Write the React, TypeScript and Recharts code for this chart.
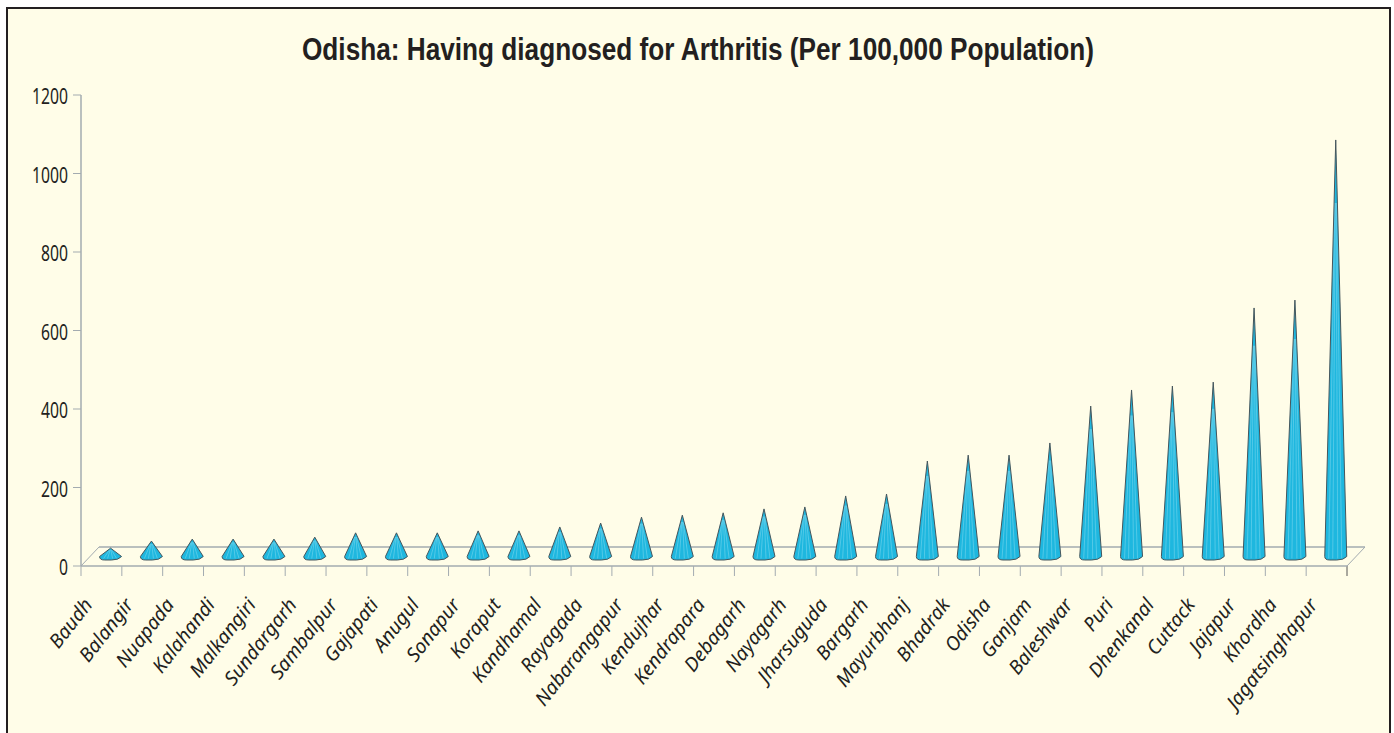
import { BarChart, Bar, XAxis, YAxis } from 'recharts'

const districts = [
  'Baudh', 'Balangir', 'Nuapada', 'Kalahandi', 'Malkangiri', 'Sundargarh', 'Sambalpur', 'Gajapati',
  'Anugul', 'Sonapur', 'Koraput', 'Kandhamal', 'Rayagada', 'Nabarangapur', 'Kendujhar', 'Kendrapara',
  'Debagarh', 'Nayagarh', 'Jharsuguda', 'Bargarh', 'Mayurbhanj', 'Bhadrak', 'Odisha', 'Ganjam',
  'Baleshwar', 'Puri', 'Dhenkanal', 'Cuttack', 'Jajapur', 'Khordha', 'Jagatsinghapur',
]
const rates = [
  20, 38, 43, 43, 43, 48, 59, 59, 59, 64, 64, 74, 84, 99, 104, 110,
  120, 125, 153, 158, 242, 257, 257, 288, 382, 423, 433, 443, 632, 652, 1060,
]
const yTicks = [0, 200, 400, 600, 800, 1000, 1200]

const data = districts.map((name, i) => ({ name, rate: rates[i] }))

const WIDTH = 1394
const HEIGHT = 733
const LEFT = 81
const RIGHT = 1347
const TOP = 95
const BOTTOM = 566
const DEPTH_X = 18
const DEPTH_Y = 19
const AXIS = '#a3abb0'
const INK = '#231f20'

const Cone = ({ x, y, width, height }: any) => {
  const cx = x + width / 2 + 9
  const tip = y - 10
  const base = y + height - 6
  const outline = `M${cx} ${tip} L${cx - 11} ${base - 3.5} Q${cx - 11} ${base} ${cx - 6} ${base} L${cx + 1} ${base} Q${cx + 8} ${base} ${cx + 11} ${base - 3.5} Z`
  return (
    <g>
      <path d={outline} fill="#1eb7df" />
      {[-7, -3, 2, 6].map((dx) => (
        <line
          key={dx}
          x1={cx + dx * 0.15}
          y1={tip + (base - tip) * 0.15}
          x2={cx + dx}
          y2={base - 1.5}
          stroke="#8adcf1"
          strokeWidth={0.7}
          opacity={0.7}
        />
      ))}
      <path d={outline} fill="none" stroke="#46565c" strokeWidth={1} strokeLinejoin="round" />
    </g>
  )
}

const DistrictTick = ({ x, y, payload }: any) => (
  <text
    x={x - 8}
    y={y + 31}
    textAnchor="end"
    fontFamily="Noto Sans"
    fontStyle="italic"
    fontSize={19.5}
    fill={INK}
    transform={`rotate(-52 ${x - 8} ${y + 31})`}
  >
    {payload.value}
  </text>
)

const RateTick = ({ x, y, payload }: any) => {
  const label = String(payload.value)
  return (
    <text
      x={x - 3}
      y={y + 9}
      textAnchor="end"
      fontFamily="Noto Sans"
      fontSize={22}
      fill={INK}
      textLength={label.length * 9}
      lengthAdjust="spacingAndGlyphs"
    >
      {label}
    </text>
  )
}

export default function App() {
  return (
    <div
      style={{
        position: 'absolute',
        left: 0,
        top: 0,
        width: WIDTH,
        height: HEIGHT,
        overflow: 'hidden',
        background: '#ffffff',
      }}
    >
      <div
        style={{
          position: 'absolute',
          left: 6,
          top: 7,
          width: 1381,
          height: 740,
          background: '#fffde8',
          border: `2px solid ${INK}`,
        }}
      />
      <div style={{ position: 'absolute', left: 0, top: 0 }}>
        <BarChart
          width={WIDTH}
          height={HEIGHT}
          data={data}
          margin={{ top: TOP, right: WIDTH - RIGHT, bottom: 0, left: 0 }}
        >
          <text
            x={302}
            y={60}
            fontFamily="Liberation Sans"
            fontWeight="bold"
            fontSize={31}
            fill={INK}
            textLength={792}
            lengthAdjust="spacingAndGlyphs"
          >
            Odisha: Having diagnosed for Arthritis (Per 100,000 Population)
          </text>
          <line x1={LEFT} y1={BOTTOM} x2={LEFT + DEPTH_X} y2={BOTTOM - DEPTH_Y} stroke={AXIS} />
          <line x1={LEFT + DEPTH_X} y1={BOTTOM - DEPTH_Y} x2={RIGHT + DEPTH_X} y2={BOTTOM - DEPTH_Y} stroke={AXIS} strokeWidth={1.5} />
          <line x1={RIGHT} y1={BOTTOM} x2={RIGHT + DEPTH_X} y2={BOTTOM - DEPTH_Y} stroke={AXIS} />
          <XAxis
            dataKey="name"
            interval={0}
            height={HEIGHT - BOTTOM}
            axisLine={{ stroke: AXIS, strokeWidth: 1.5 }}
            tickLine={false}
            tick={<DistrictTick />}
          />
          <YAxis
            width={LEFT}
            domain={[0, 1200]}
            ticks={yTicks}
            axisLine={{ stroke: AXIS, strokeWidth: 1.5 }}
            tickLine={{ stroke: AXIS }}
            tickSize={8}
            tick={<RateTick />}
          />
          <Bar dataKey="rate" shape={<Cone />} isAnimationActive={false} />
          {districts.map((name, i) => {
            const tx = LEFT + ((RIGHT - LEFT) * i) / districts.length
            return <line key={name} x1={tx} y1={BOTTOM} x2={tx} y2={BOTTOM + 10} stroke={AXIS} />
          })}
          <line x1={RIGHT} y1={BOTTOM} x2={RIGHT} y2={BOTTOM + 10} stroke="#555" />
        </BarChart>
      </div>
    </div>
  )
}
